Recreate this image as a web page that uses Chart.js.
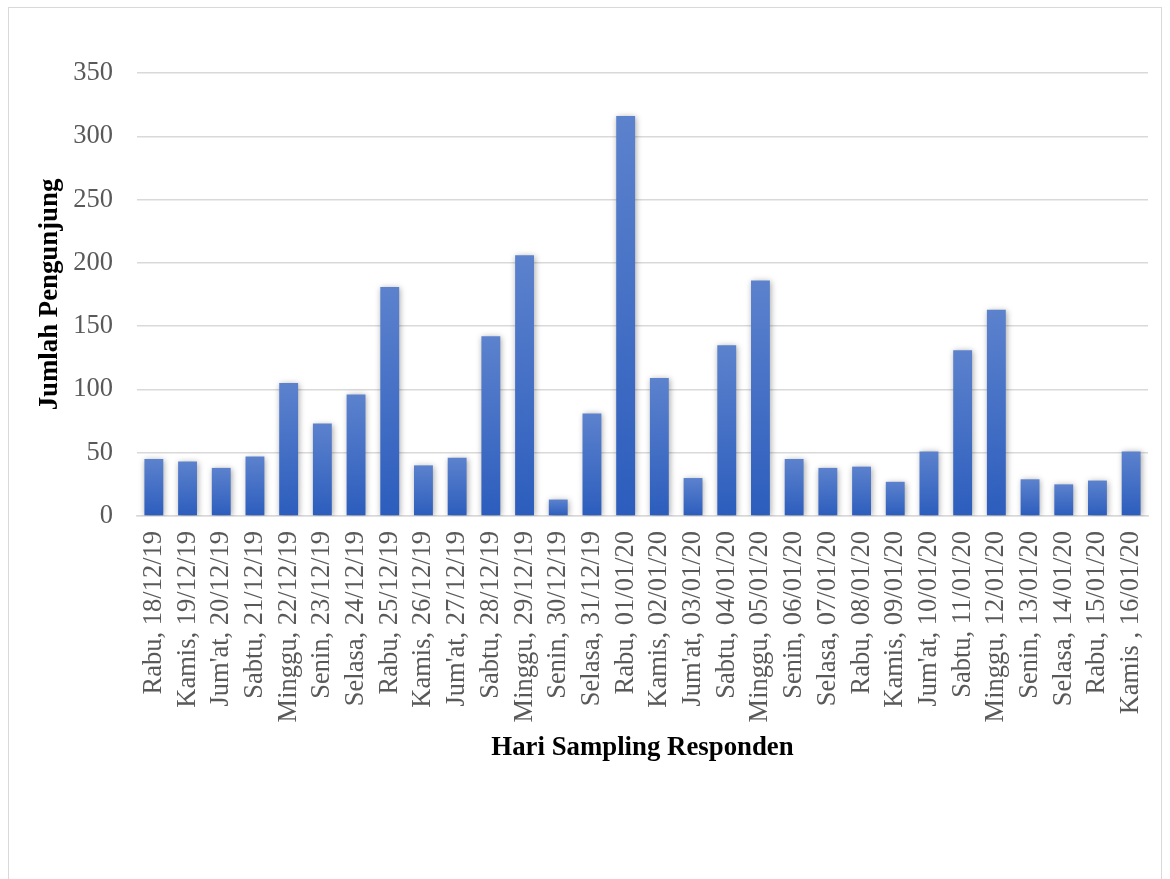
<!DOCTYPE html>
<html>
<head>
<meta charset="utf-8">
<script src="https://cdn.jsdelivr.net/npm/chart.js@4/dist/chart.umd.min.js"></script>
<style>
  html, body { margin: 0; padding: 0; background: #ffffff; }
  #wrap { position: relative; width: 1170px; height: 879px; overflow: hidden; }
  #frame { position: absolute; left: 8px; top: 7px; width: 1154px; height: 900px; border: 1.5px solid #d9d9d9; box-sizing: border-box; }
  canvas { position: absolute; left: 0; top: 0; }
</style>
</head>
<body>
<div id="wrap">
  <div id="frame"></div>
  <canvas id="c" width="1170" height="879"></canvas>
</div>
<script>
const categories = ["Rabu, 18/12/19","Kamis, 19/12/19","Jum'at, 20/12/19","Sabtu, 21/12/19","Minggu, 22/12/19","Senin, 23/12/19","Selasa, 24/12/19","Rabu, 25/12/19","Kamis, 26/12/19","Jum'at, 27/12/19","Sabtu, 28/12/19","Minggu, 29/12/19","Senin, 30/12/19","Selasa, 31/12/19","Rabu, 01/01/20","Kamis, 02/01/20","Jum'at, 03/01/20","Sabtu, 04/01/20","Minggu, 05/01/20","Senin, 06/01/20","Selasa, 07/01/20","Rabu, 08/01/20","Kamis, 09/01/20","Jum'at, 10/01/20","Sabtu, 11/01/20","Minggu, 12/01/20","Senin, 13/01/20","Selasa, 14/01/20","Rabu, 15/01/20","Kamis , 16/01/20"];
const visitors = [45, 43, 38, 47, 105, 73, 96, 181, 40, 46, 142, 206, 13, 81, 316, 109, 30, 135, 186, 45, 38, 39, 27, 51, 131, 163, 29, 25, 28, 51];
const yTickMin = 0;
const yTickMax = 350;
const yTickStep = 50;
const xTitle = "Hari Sampling Responden";
const yTitle = "Jumlah Pengunjung";

const serif = "'Liberation Serif', 'Times New Roman', serif";

const shadowPlugin = {
  id: 'barShadow',
  beforeDatasetsDraw(chart) {
    const c = chart.ctx;
    c.save();
    c.shadowColor = 'rgba(0,0,0,0.35)';
    c.shadowBlur = 6;
    c.shadowOffsetX = 1;
    c.shadowOffsetY = 1;
  },
  afterDatasetsDraw(chart) {
    chart.ctx.restore();
  }
};

function barGradient(context) {
  const chart = context.chart;
  if (!chart.chartArea || context.type !== 'data') return '#4472c4';
  const y = chart.scales.y;
  const top = y.getPixelForValue(context.raw);
  const base = y.getPixelForValue(0);
  const g = chart.ctx.createLinearGradient(0, top, 0, base);
  g.addColorStop(0, '#5c82cd');
  g.addColorStop(1, '#2c5dbd');
  return g;
}

new Chart(document.getElementById('c'), {
  type: 'bar',
  data: {
    labels: categories,
    datasets: [{
      data: visitors,
      backgroundColor: barGradient,
      borderWidth: 0,
      barPercentage: 0.56,
      categoryPercentage: 1.0
    }]
  },
  options: {
    responsive: false,
    animation: false,
    devicePixelRatio: 1,
    layout: { padding: { top: 73, right: 22, bottom: 0, left: 0 } },
    plugins: {
      legend: { display: false },
      tooltip: { enabled: false }
    },
    scales: {
      x: {
        grid: { display: false, drawTicks: false },
        border: { display: true, color: '#d9d9d9', width: 1.5 },
        ticks: {
          autoSkip: false,
          maxRotation: 90,
          minRotation: 90,
          padding: 15,
          color: '#595959',
          font: { family: serif, size: 26.5 }
        },
        title: {
          display: true,
          text: xTitle,
          color: '#000000',
          font: { family: serif, size: 26.8, weight: 'bold' },
          padding: { top: 0, bottom: 115 }
        },
        afterFit(scale) { scale.height = 363; scale.paddingLeft = 0; scale.paddingRight = 0; }
      },
      y: {
        min: yTickMin,
        max: yTickMax,
        grid: { color: '#d9d9d9', lineWidth: 1.5, drawTicks: false },
        border: { display: false },
        ticks: {
          stepSize: yTickStep,
          padding: 24,
          color: '#595959',
          font: { family: serif, size: 26.5 }
        },
        title: {
          display: true,
          text: yTitle,
          color: '#000000',
          font: { family: serif, size: 26.8, weight: 'bold' },
          padding: { top: 34, bottom: 0 }
        },
        afterFit(scale) { scale.width = 137; }
      }
    }
  },
  plugins: [shadowPlugin]
});
</script>
</body>
</html>
